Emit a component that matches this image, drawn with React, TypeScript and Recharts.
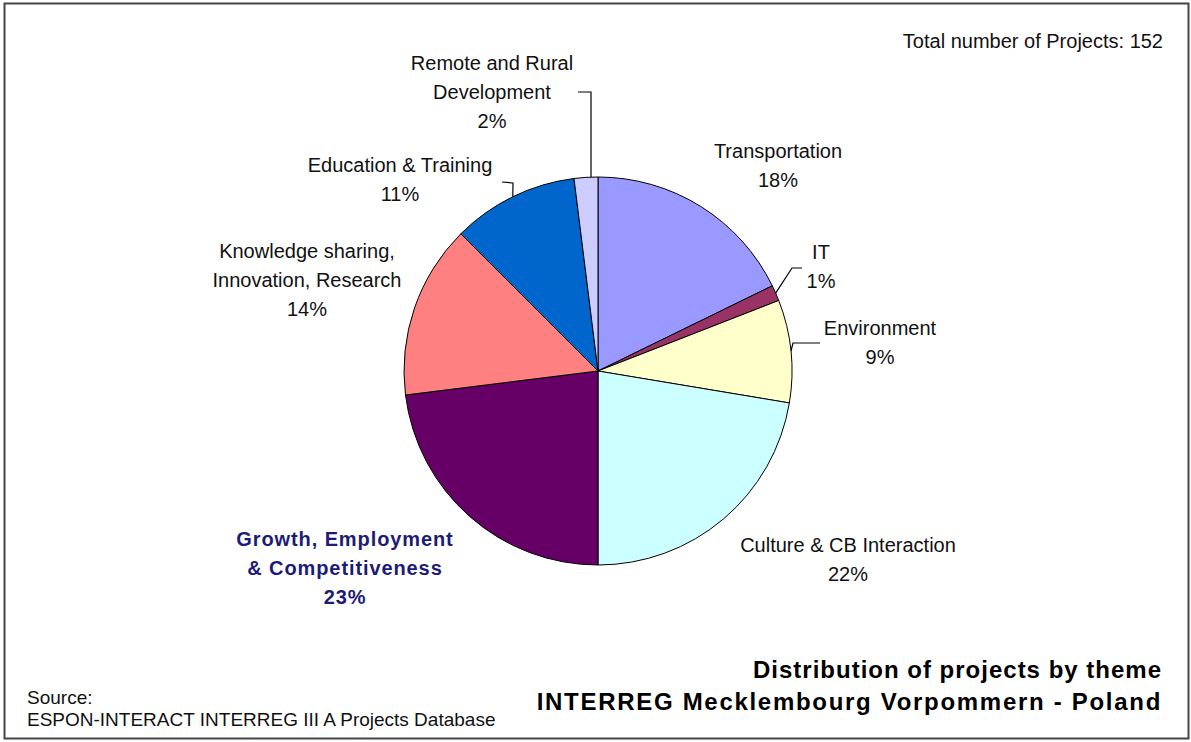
import { Cell, Pie, PieChart } from 'recharts'

// themes, clockwise from 12 o'clock
const themes = [
	'Transportation',
	'IT',
	'Environment',
	'Culture & CB Interaction',
	'Growth, Employment & Competitiveness',
	'Knowledge sharing, Innovation, Research',
	'Education & Training',
	'Remote and Rural Development',
]

// number of projects per theme (total 152)
const projects = [27, 2, 13, 34, 35, 22, 16, 3]

// how each label is broken into lines
const labelLines = [
	['Transportation'],
	['IT'],
	['Environment'],
	['Culture & CB Interaction'],
	['Growth, Employment', '& Competitiveness'],
	['Knowledge sharing,', 'Innovation, Research'],
	['Education & Training'],
	['Remote and Rural', 'Development'],
]

const colors = [
	'#9999ff',
	'#993366',
	'#ffffcc',
	'#ccffff',
	'#660066',
	'#ff8080',
	'#0066cc',
	'#ccccff',
]

const data = themes.map((name, i) => ({ name, value: projects[i] }))

const W = 1191
const H = 742
const CX = 598
const CY = 371
const R = 194
const FONT = '"Liberation Sans", Arial, sans-serif'

// label placement relative to the pie centre: text centre x, first baseline y,
// and optional leader line points (the line starts on the slice edge)
type Place = { x: number; y: number; line?: [number, number][]; bold?: boolean }
const places: Place[] = [
	{ x: 180, y: -213 },
	{ x: 223, y: -112, line: [[194, -103], [204, -103]] },
	{ x: 282, y: -36, line: [[195, -28], [222, -28]] },
	{ x: 250, y: 181 },
	{ x: -253, y: 175, bold: true },
	{ x: -291, y: -113 },
	{ x: -198, y: -199, line: [[-85, -188], [-96, -189]] },
	{ x: -106, y: -301, line: [[-7, -279], [-20, -279]] },
]

const RAD = Math.PI / 180

function renderLabel(props: any) {
	const { cx, cy, midAngle, outerRadius, percent, index } = props
	const p = places[index]
	const lines = [...labelLines[index], `${Math.round(percent * 100)}%`]
	const ex = cx + outerRadius * Math.cos(-midAngle * RAD)
	const ey = cy + outerRadius * Math.sin(-midAngle * RAD)
	let start: [number, number] = [ex, ey]
	if (index === 7) start = [cx - 7, cy - outerRadius]
	const pts = p.line
		? [start, ...p.line.map(([dx, dy]) => [cx + dx, cy + dy])]
		: null
	return (
		<g key={`lbl-${index}`}>
			{pts && (
				<polyline
					points={pts.map((q) => q.join(',')).join(' ')}
					fill='none'
					stroke='#000'
					strokeWidth={1.2}
				/>
			)}
			<text
				x={cx + p.x}
				y={cy + p.y}
				textAnchor='middle'
				fontFamily={FONT}
				fontSize={20}
				fontWeight={p.bold ? 'bold' : 'normal'}
				letterSpacing={p.bold ? 0.9 : 0}
				fill={p.bold ? '#1c1c78' : '#111'}
			>
				{lines.map((t, i) => (
					<tspan key={i} x={cx + p.x} dy={i === 0 ? 0 : 29}>
						{t}
					</tspan>
				))}
			</text>
		</g>
	)
}

export default function App() {
	return (
		<div
			style={{
				position: 'absolute',
				left: 0,
				top: 0,
				width: W,
				height: H,
				background: '#fff',
			}}
		>
			<PieChart width={W} height={H} margin={{ top: 0, right: 0, bottom: 0, left: 0 }}>
				<Pie
					data={data}
					dataKey='value'
					nameKey='name'
					cx={CX}
					cy={CY}
					outerRadius={R}
					startAngle={90}
					endAngle={-270}
					stroke='#000'
					strokeWidth={1}
					label={renderLabel}
					labelLine={false}
					isAnimationActive={false}
				>
					{data.map((d, i) => (
						<Cell key={d.name} fill={colors[i]} />
					))}
				</Pie>
			</PieChart>
			<svg
				width={W}
				height={H}
				style={{ position: 'absolute', left: 0, top: 0, pointerEvents: 'none' }}
			>
				<rect x={4.5} y={3.5} width={1184} height={735} fill='none' stroke='#444' strokeWidth={2} />
				<text x={1163} y={48} textAnchor='end' fontFamily={FONT} fontSize={20} fill='#111'>
					Total number of Projects: 152
				</text>
				<text
					x={1162}
					y={678}
					textAnchor='end'
					fontFamily={FONT}
					fontSize={24}
					fontWeight='bold'
					fill='#000'
				>
					<tspan x={1162} letterSpacing={1}>
						Distribution of projects by theme
					</tspan>
					<tspan x={1162} dy={32} letterSpacing={1.7}>
						INTERREG Mecklembourg Vorpommern - Poland
					</tspan>
				</text>
				<text x={27} y={704} fontFamily={FONT} fontSize={19} fill='#111'>
					<tspan x={27}>Source:</tspan>
					<tspan x={27} dy={22}>
						ESPON-INTERACT INTERREG III A Projects Database
					</tspan>
				</text>
			</svg>
		</div>
	)
}
